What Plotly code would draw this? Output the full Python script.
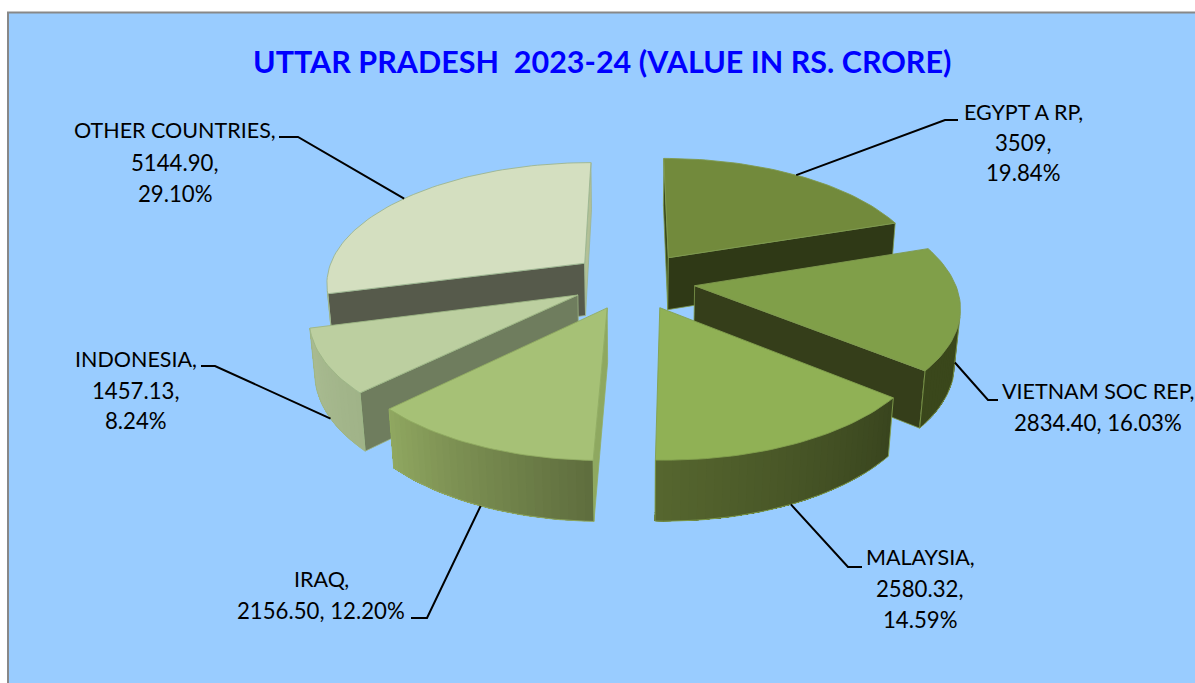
import numpy as np
import plotly.graph_objects as go

# ---------- data ----------
countries = ["EGYPT A RP", "VIETNAM SOC REP", "MALAYSIA", "IRAQ", "INDONESIA", "OTHER COUNTRIES"]
values = [3509, 2834.40, 2580.32, 2156.50, 1457.13, 5144.90]
value_labels = ["3509", "2834.40", "2580.32", "2156.50", "1457.13", "5144.90"]
title = "UTTAR PRADESH\u00a0\u00a02023-24 (VALUE IN RS. CRORE)"

# ---------- style ----------
W, H = 1195, 683
BG = "#99CCFF"
top_colors = ["#728A3C", "#809F49", "#90B155", "#A6C176", "#BCCFA0", "#D4DFC0"]
start_face = ["#3A4A1C", "#353E1A", "#39451E", "#8EA860", "#6F7D5E", "#565A4B"]
end_face = ["#2F3916", "#353E1A", "#56662F", "#8EA860", "#6F7D5E", "#B2C096"]
arc_from = ["#3A4A1C", "#3A471B", "#39451E", "#5F6E3E", "#A0B388", "#A9BB90"]
arc_to = ["#3A4A1C", "#3A471B", "#56662F", "#8FA660", "#AABC92", "#A9BB90"]
edge = ["#7F9A4E", "#7F9A4E", "#82A04E", "#92AD62", "#9DB585", "#9DB590"]
draw_order = [5, 0, 4, 1, 3, 2]

# projection of the pie (perspective, in page pixels)
CX, Y0, A, B, K, J, C, EXPLODE = 633, 280.5, 259.5, 120.5, 0.15, 0.017, 54, 0.24


def project(x, y, bottom=False):
    w = 1 + K * y + (J if bottom else 0)
    return CX + x * A / w, Y0 - (B * y - (C if bottom else 0)) / w


def rgb(h):
    return np.array([int(h[i:i + 2], 16) for i in (1, 3, 5)], float)


def mix(a, b, t):
    c = rgb(a) * (1 - t) + rgb(b) * t
    return "#%02X%02X%02X" % tuple(int(round(v)) for v in c)


def area(xs, ys):
    return sum(xs[i] * ys[(i + 1) % len(xs)] - xs[(i + 1) % len(xs)] * ys[i] for i in range(len(xs))) / 2


total = sum(values)
shares = [v / total for v in values]
edges = np.concatenate([[0], np.cumsum(shares)]) * 2 * np.pi
fig = go.Figure()


def poly(xs, ys, fill, line=None, lw=0.8):
    fig.add_trace(go.Scatter(x=list(xs) + [xs[0]], y=list(ys) + [ys[0]], mode="lines", fill="toself",
                             fillcolor=fill, line=dict(color=line or fill, width=lw), hoverinfo="skip",
                             showlegend=False))


anchors = {}
for i in draw_order:
    a0, a1 = edges[i], edges[i + 1]
    mid = (a0 + a1) / 2
    ox, oy = EXPLODE * np.sin(mid), EXPLODE * np.cos(mid)
    th = np.linspace(a0, a1, max(int((a1 - a0) / np.radians(1.5)), 4))
    ax_, ay_ = project(ox, oy)
    bx_, by_ = project(ox, oy, True)
    rim_t = [project(ox + np.sin(t), oy + np.cos(t)) for t in th]
    rim_b = [project(ox + np.sin(t), oy + np.cos(t), True) for t in th]
    # radial faces
    q = [(ax_, ay_), rim_t[0], rim_b[0], (bx_, by_)]
    if area([p[0] for p in q], [p[1] for p in q]) < 0 or i in (0,):
        poly([p[0] for p in q], [p[1] for p in q], start_face[i], edge[i])
    q = [(ax_, ay_), rim_t[-1], rim_b[-1], (bx_, by_)]
    if area([p[0] for p in q], [p[1] for p in q]) > 0:
        poly([p[0] for p in q], [p[1] for p in q], end_face[i], edge[i])
    # rim wall: each band is painted from its angle to the end of the wall, so no seams show
    vis = []
    for j in range(len(th) - 1):
        q = [rim_t[j], rim_t[j + 1], rim_b[j + 1], rim_b[j]]
        if area([p[0] for p in q], [p[1] for p in q]) < 0:
            vis.append(j)
    if vis:
        last = vis[-1] + 1
        for j in vis:
            xs = [p[0] for p in rim_t[j:last + 1]] + [p[0] for p in rim_b[j:last + 1]][::-1]
            ys = [p[1] for p in rim_t[j:last + 1]] + [p[1] for p in rim_b[j:last + 1]][::-1]
            fig.add_trace(go.Scatter(x=xs + [xs[0]], y=ys + [ys[0]], mode="lines", fill="toself",
                                     fillcolor=mix(arc_from[i], arc_to[i], j / max(len(th) - 2, 1)),
                                     line=dict(width=0), hoverinfo="skip", showlegend=False))
        path = [rim_t[vis[0]]] + [rim_b[j] for j in vis] + [rim_b[last], rim_t[last]]
        fig.add_trace(go.Scatter(x=[p[0] for p in path], y=[p[1] for p in path], mode="lines",
                                 line=dict(color=edge[i], width=0.9), hoverinfo="skip", showlegend=False))
    # top
    pts = [(ax_, ay_)] + rim_t
    poly([p[0] for p in pts], [p[1] for p in pts], top_colors[i], edge[i], 0.9)
    # leader anchor on the slice's mid angle
    anchors[i] = project(ox + np.sin(mid), oy + np.cos(mid), i in (1, 2, 3, 4))

# leader lines: anchor -> elbow -> end
elbows = {0: [(945, 120), (958, 120)], 1: [(988, 400), (998, 400)], 2: [(848, 567), (862, 567)],
          3: [(427, 618), (411, 618)], 4: [(215, 366), (201, 366)], 5: [(298, 137), (279, 137)]}
for i, pts in elbows.items():
    path = [anchors[i]] + pts
    fig.add_trace(go.Scatter(x=[p[0] for p in path], y=[p[1] for p in path], mode="lines",
                             line=dict(color="#000000", width=2), hoverinfo="skip", showlegend=False))

# data labels
pct = [f"{s * 100:.2f}%" for s in shares]
label_lines = {
    0: (1023, [112, 142, 172], [f"{countries[0]},", f"{value_labels[0]},", pct[0]]),
    1: (1098, [391, 422], [f"{countries[1]},", f"{value_labels[1]}, {pct[1]}"]),
    2: (920, [557, 588, 619], [f"{countries[2]},", f"{value_labels[2]},", pct[2]]),
    3: (321, [579, 610], [f"{countries[3]},", f"{value_labels[3]}, {pct[3]}"]),
    4: (136, [359, 390, 420], [f"{countries[4]},", f"{value_labels[4]},", pct[4]]),
    5: (175, [130, 162, 193], [f"{countries[5]},", f"{value_labels[5]},", pct[5]]),
}
annotations = []
for i, (lx, lys, lines) in label_lines.items():
    for n, (ly, txt) in enumerate(zip(lys, lines)):
        annotations.append(dict(x=lx, y=ly, text=txt, showarrow=False, xanchor="center", yanchor="middle",
                                font=dict(family="Lato", size=21.5 if n == 0 else 22.2, color="#000000")))
annotations.append(dict(x=601.5, y=61, text=f"<b>{title}</b>", showarrow=False, xanchor="center", yanchor="middle",
                        font=dict(family="Lato", size=30.5, color="#0000FF")))

fig.update_layout(
    width=W, height=H, autosize=False, margin=dict(l=0, r=0, t=0, b=0),
    paper_bgcolor="#FFFFFF", plot_bgcolor="#FFFFFF", showlegend=False, annotations=annotations,
    xaxis=dict(range=[0, W], visible=False, fixedrange=True),
    yaxis=dict(range=[H, 0], visible=False, fixedrange=True),
    shapes=[dict(type="rect", xref="x", yref="y", x0=8, y0=12.5, x1=W + 10, y1=H + 10, layer="below",
                 fillcolor=BG, line=dict(color="#888888", width=2))],
)
fig.write_html("out.html", config={"displayModeBar": False},
               post_script="document.body.style.margin='0';document.body.style.overflow='hidden';")
